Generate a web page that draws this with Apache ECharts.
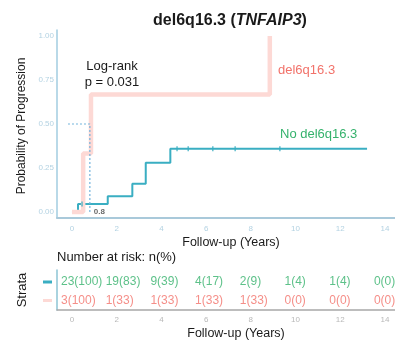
<!DOCTYPE html>
<html><head><meta charset="utf-8">
<script src="https://cdn.jsdelivr.net/npm/echarts@6/dist/echarts.min.js"></script>
<style>html,body{margin:0;padding:0;background:#fff}#c{width:395px;height:341px}</style>
</head><body><div id="c"></div>
<script>
// ---- data ----
var xTicks = [0, 2, 4, 6, 8, 10, 12, 14];
var yTicks = [0, 0.25, 0.5, 0.75, 1];
var noDelCurve = [[0, 0], [0.27, 0.045], [1.6, 0.09], [2.7, 0.16], [3.3, 0.28], [4.4, 0.36], [13.2, 0.36]];
var delCurve = [[0, 0], [0.5, 0.333], [0.85, 0.667], [8.85, 1.0]];
var noDelCensorTimes = [0.45, 4.7, 5.2, 6.3, 7.3, 9.3];
var medianLine = [[-0.18, 0.5], [0.8, 0.5], [0.8, 0]];
var medianLabel = '0.8';
var riskTimes = [0, 2, 4, 6, 8, 10, 12, 14];
var noDelN = [23, 19, 9, 4, 2, 1, 1, 0];
var noDelPct = [100, 83, 39, 17, 9, 4, 4, 0];
var delN = [3, 1, 1, 1, 1, 0, 0, 0];
var delPct = [100, 33, 33, 33, 33, 0, 0, 0];
var strata = ['del6q16.3', 'No del6q16.3'];

// ---- build ----
var FONT = "'Liberation Sans', Arial, Helvetica, sans-serif";
var TEAL = '#3aaec2', PINK = '#fdd9d5', GREEN = '#35b26c', RED = '#f2726a';
function stepValue(curve, t) {
  var v = curve[0][1];
  for (var i = 0; i < curve.length; i++) { if (curve[i][0] <= t) v = curve[i][1]; }
  return v;
}
var censorPts = noDelCensorTimes.map(function (t) { return [t, stepValue(noDelCurve, t)]; });
function riskData(times, n, p, row) {
  return times.map(function (t, i) {
    return { value: [t, row], text: n[i] + '(' + p[i] + ')' };
  });
}
var xMin = -0.67, xMax = 14.45;

var chart = echarts.init(document.getElementById('c'), null, { renderer: 'canvas' });
chart.setOption({
  animation: false,
  textStyle: { fontFamily: FONT },
  grid: [
    { left: 57, right: 0, top: 30, height: 188 },
    { left: 57, right: 0, top: 270, height: 40 }
  ],
  xAxis: [
    { type: 'value', gridIndex: 0, min: xMin, max: xMax,
      axisLine: { show: true, onZero: false, lineStyle: { color: '#a9c9da', width: 2 } },
      axisTick: { show: false }, splitLine: { show: false },
      axisLabel: { customValues: xTicks, fontSize: 8, color: '#b3d2e2', margin: 7 } },
    { type: 'value', gridIndex: 1, min: xMin, max: xMax,
      axisLine: { show: true, onZero: false, lineStyle: { color: '#a8a8a8', width: 1.5 } },
      axisTick: { show: false }, splitLine: { show: false },
      axisLabel: { customValues: xTicks, fontSize: 8, color: '#b8b8b8', margin: 6 } }
  ],
  yAxis: [
    { type: 'value', gridIndex: 0, min: -0.034, max: 1.034,
      axisLine: { show: true, onZero: false, lineStyle: { color: '#a2cde0', width: 1.5 } },
      axisTick: { show: false }, splitLine: { show: false },
      axisLabel: { customValues: yTicks, fontSize: 8, color: '#b3d2e2', margin: 3,
        formatter: function (v) { return v.toFixed(2); } } },
    { type: 'category', gridIndex: 1, data: strata,
      axisLine: { show: true, onZero: false, lineStyle: { color: '#8cc4d4', width: 1.5 } },
      axisTick: { show: false }, axisLabel: { show: false }, splitLine: { show: false } }
  ],
  series: [
    { type: 'line', xAxisIndex: 0, yAxisIndex: 0, step: 'end', data: noDelCurve, symbol: 'none',
      lineStyle: { color: TEAL, width: 2 }, z: 3 },
    { type: 'line', xAxisIndex: 0, yAxisIndex: 0, step: 'end', data: delCurve, symbol: 'none',
      lineStyle: { color: PINK, width: 4.5 }, z: 4 },
    { type: 'scatter', xAxisIndex: 0, yAxisIndex: 0, data: censorPts, symbol: 'rect',
      symbolSize: [1.5, 5], itemStyle: { color: TEAL }, z: 5 },
    { type: 'line', xAxisIndex: 0, yAxisIndex: 0, data: medianLine, symbol: 'none',
      lineStyle: { color: '#72b3dc', width: 1.2, type: [2, 2] }, z: 6,
      endLabel: { show: true, formatter: medianLabel, color: '#6a6a6a', fontSize: 8, fontWeight: 'bold',
        offset: [-4, 0], fontFamily: FONT } },
    { type: 'scatter', xAxisIndex: 1, yAxisIndex: 1, symbol: 'circle', symbolSize: 2,
      itemStyle: { color: 'rgba(0,0,0,0)' }, z: 8,
      data: riskData(riskTimes, noDelN, noDelPct, 1),
      label: { show: true, position: 'inside', align: 'left', color: GREEN, fontSize: 12, fontFamily: FONT, offset: [-11, 2],
        formatter: function (p) { return p.data.text; } } },
    { type: 'scatter', xAxisIndex: 1, yAxisIndex: 1, symbol: 'circle', symbolSize: 2,
      itemStyle: { color: 'rgba(0,0,0,0)' }, z: 8,
      data: riskData(riskTimes, delN, delPct, 0),
      label: { show: true, position: 'inside', align: 'left', color: RED, fontSize: 12, fontFamily: FONT, offset: [-11, 1],
        formatter: function (p) { return p.data.text; } } }
  ],
  graphic: [
    { type: 'text', x: 230, y: 21, z: 10, style: {
        text: '{b|del6q16.3 (}{i|TNFAIP3}{b|)}', align: 'center', verticalAlign: 'middle',
        rich: { b: { fontSize: 16, fontWeight: 'bold', fontFamily: FONT, fill: '#1a1a1a', color: '#1a1a1a' },
                i: { fontSize: 16, fontWeight: 'bold', fontStyle: 'italic', fontFamily: FONT, fill: '#1a1a1a', color: '#1a1a1a' } } } },
    { type: 'text', x: 22, y: 126, rotation: Math.PI / 2, z: 10, style: {
        text: 'Probability of Progression', align: 'center', verticalAlign: 'middle',
        fontSize: 12, fontFamily: FONT, fill: '#1a1a1a' } },
    { type: 'text', x: 112, y: 74, z: 10, style: {
        text: 'Log-rank\np = 0.031', align: 'center', verticalAlign: 'middle', lineHeight: 16,
        fontSize: 13, fontFamily: FONT, fill: '#1a1a1a', backgroundColor: '#ffffff', padding: [1, 2] } },
    { type: 'text', x: 278, y: 70, z: 10, style: {
        text: 'del6q16.3', align: 'left', verticalAlign: 'middle', fontSize: 13, fontFamily: FONT, fill: RED } },
    { type: 'text', x: 280, y: 134, z: 10, style: {
        text: 'No del6q16.3', align: 'left', verticalAlign: 'middle', fontSize: 13, fontFamily: FONT, fill: GREEN } },
    { type: 'text', x: 231, y: 243, z: 10, style: {
        text: 'Follow-up (Years)', align: 'center', verticalAlign: 'middle', fontSize: 12.5, fontFamily: FONT, fill: '#1a1a1a' } },
    { type: 'text', x: 57, y: 257, z: 10, style: {
        text: 'Number at risk: n(%)', align: 'left', verticalAlign: 'middle', fontSize: 13, fontFamily: FONT, fill: '#1a1a1a' } },
    { type: 'text', x: 22, y: 290, rotation: Math.PI / 2, z: 10, style: {
        text: 'Strata', align: 'center', verticalAlign: 'middle', fontSize: 13, fontFamily: FONT, fill: '#1a1a1a' } },
    { type: 'rect', shape: { x: 43, y: 280.5, width: 9, height: 3 }, style: { fill: TEAL } },
    { type: 'rect', shape: { x: 43, y: 299, width: 9, height: 3 }, style: { fill: PINK } },
    { type: 'text', x: 236, y: 334, z: 10, style: {
        text: 'Follow-up (Years)', align: 'center', verticalAlign: 'middle', fontSize: 12.5, fontFamily: FONT, fill: '#1a1a1a' } }
  ]
});
</script>
</body></html>
